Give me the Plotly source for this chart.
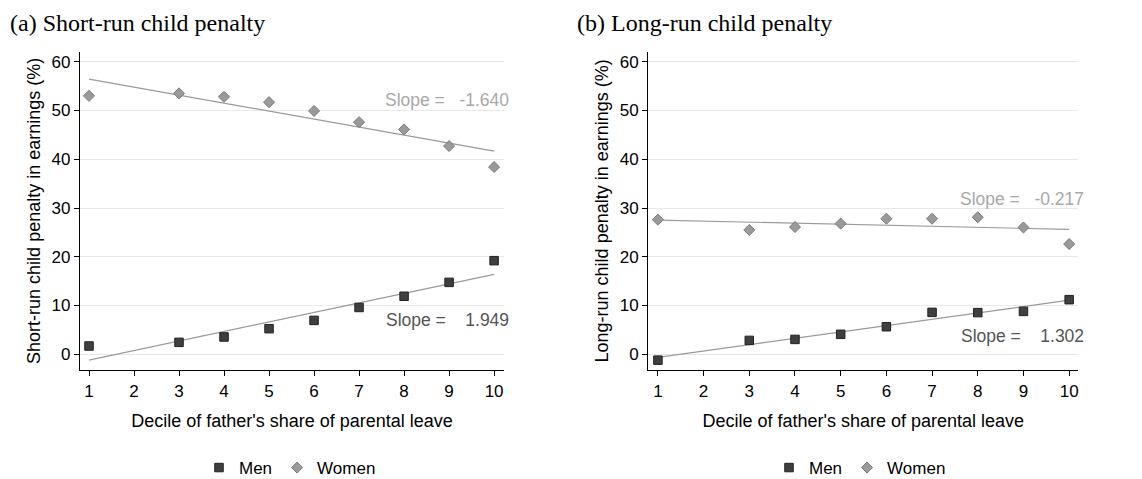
import numpy as np
import plotly.graph_objects as go

deciles = [1, 3, 4, 5, 6, 7, 8, 9, 10]
tick_vals = [1, 2, 3, 4, 5, 6, 7, 8, 9, 10]
y_ticks = [0, 10, 20, 30, 40, 50, 60]

sr_men = [1.7, 2.45, 3.55, 5.25, 6.95, 9.6, 11.9, 14.75, 19.2]
sr_women = [53.0, 53.5, 52.8, 51.7, 49.9, 47.6, 46.1, 42.7, 38.4]
lr_men = [-1.2, 2.85, 3.05, 4.1, 5.65, 8.6, 8.55, 8.8, 11.2]
lr_women = [27.6, 25.5, 26.1, 26.8, 27.8, 27.8, 28.1, 26.0, 22.6]

sr_slope_labels = {"men": "Slope =    1.949", "women": "Slope =   -1.640"}
lr_slope_labels = {"men": "Slope =    1.302", "women": "Slope =   -0.217"}

panel_titles = ["(a) Short-run child penalty", "(b) Long-run child penalty"]
y_titles = ["Short-run child penalty in earnings (%)", "Long-run child penalty in earnings (%)"]
x_title = "Decile of father's share of parental leave"

SANS = "Arial, Liberation Sans, sans-serif"
SERIF = "Times New Roman, Liberation Serif, serif"
MEN_COLOR = "#3f3f3f"
WOMEN_COLOR = "#9a9a9a"
FS_TICK = 17
FS_TITLE = 18
FS_SLOPE = 17.5
FS_LEG = 17

# page body has an 8px default margin; lay out in page pixels minus that offset
OFF = 8
W, H = 1142 - OFF, 479


def px_x(p):
    return (p - OFF) / W


def px_y(p):
    return (H - (p - OFF)) / H


fig = go.Figure()


def fit_line(x, y):
    b, a = np.polyfit(x, y, 1)
    xs = np.array([min(x), max(x)])
    return xs, a + b * xs


panels = [
    (sr_men, sr_women, "x", "y", "legend"),
    (lr_men, lr_women, "x2", "y2", "legend2"),
]

for men, women, xa, ya, lg in panels:
    fx, fy = fit_line(deciles, women)
    fig.add_trace(go.Scatter(x=fx, y=fy, mode="lines", line=dict(color="#9a9a9a", width=1.2),
                             xaxis=xa, yaxis=ya, showlegend=False, hoverinfo="skip"))
    fx, fy = fit_line(deciles, men)
    fig.add_trace(go.Scatter(x=fx, y=fy, mode="lines", line=dict(color="#9a9a9a", width=1.2),
                             xaxis=xa, yaxis=ya, showlegend=False, hoverinfo="skip"))
    fig.add_trace(go.Scatter(x=deciles, y=men, mode="markers", name="Men",
                             marker=dict(symbol="square", size=8.5, color=MEN_COLOR,
                                         line=dict(color="#222222", width=1)),
                             xaxis=xa, yaxis=ya, legend=lg))
    fig.add_trace(go.Scatter(x=deciles, y=women, mode="markers", name="Women",
                             marker=dict(symbol="diamond", size=8.5, color=WOMEN_COLOR,
                                         line=dict(color="#7a7a7a", width=1)),
                             xaxis=xa, yaxis=ya, legend=lg))

ann = []
for xr, yr, xpos, labels, yw, ym in [
    ("x domain", "y", 1.0158, sr_slope_labels, 52.2, 7.0),
    ("x2 domain", "y2", 1.0172, lr_slope_labels, 31.9, 3.8),
]:
    ann.append(dict(x=xpos, y=yw, xref=xr, yref=yr, text=labels["women"], showarrow=False,
                    xanchor="right", yanchor="middle", font=dict(family=SANS, size=FS_SLOPE, color="#a8a8a8")))
    ann.append(dict(x=xpos, y=ym, xref=xr, yref=yr, text=labels["men"], showarrow=False,
                    xanchor="right", yanchor="middle", font=dict(family=SANS, size=FS_SLOPE, color="#555555")))

ann.append(dict(x=px_x(8), y=1, xref="paper", yref="paper", text=panel_titles[0], showarrow=False,
                xanchor="left", yanchor="top", font=dict(family=SERIF, size=24, color="black")))
ann.append(dict(x=px_x(575), y=1, xref="paper", yref="paper", text=panel_titles[1], showarrow=False,
                xanchor="left", yanchor="top", font=dict(family=SERIF, size=24, color="black")))

xdom1 = [px_x(80), px_x(504)]
xdom2 = [px_x(648.3), px_x(1078.3)]
ydom = [px_y(370), px_y(51.7)]

common_x = dict(tickvals=tick_vals, showgrid=False, zeroline=False,
                showline=True, linecolor="black", linewidth=1.3, ticks="outside", ticklen=5,
                tickcolor="black", tickfont=dict(family=SANS, size=FS_TICK, color="black"),
                title=dict(text=x_title, font=dict(family=SANS, size=FS_TITLE, color="black"), standoff=14))
common_y = dict(range=[-3.22, 62.05], tickvals=y_ticks, showgrid=True, gridcolor="#e8e8e8", gridwidth=1,
                zeroline=False, showline=True, linecolor="black", linewidth=1.3, ticks="outside",
                ticklen=5, tickcolor="black", tickfont=dict(family=SANS, size=FS_TICK, color="black"))

legend_common = dict(orientation="h", xanchor="center", y=px_y(468), yanchor="middle",
                     font=dict(family=SANS, size=FS_LEG, color="black"), itemwidth=30, tracegroupgap=0)

fig.update_layout(
    width=W, height=H,
    margin=dict(l=0, r=0, t=0, b=0),
    paper_bgcolor="white", plot_bgcolor="white",
    xaxis=dict(domain=xdom1, anchor="y", range=[0.8, 10.22], **common_x),
    yaxis=dict(domain=ydom, anchor="x", title=dict(text=y_titles[0], font=dict(family=SANS, size=FS_TITLE, color="black"), standoff=6), **common_y),
    xaxis2=dict(domain=xdom2, anchor="y2", range=[0.79, 10.2], **common_x),
    yaxis2=dict(domain=ydom, anchor="x2", title=dict(text=y_titles[1], font=dict(family=SANS, size=FS_TITLE, color="black"), standoff=6), **common_y),
    legend=dict(x=px_x(290), **legend_common),
    legend2=dict(x=px_x(860), **legend_common),
    annotations=ann,
    showlegend=True,
)

fig.write_html("out.html")
